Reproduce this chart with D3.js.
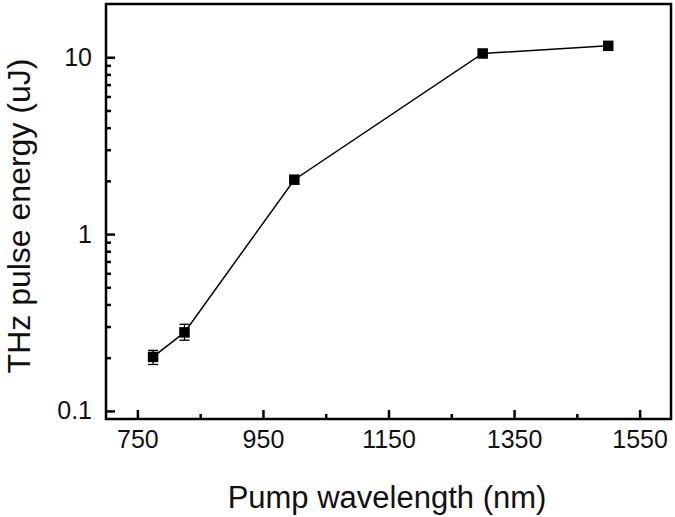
<!DOCTYPE html>
<html>
<head>
<meta charset="utf-8">
<script src="https://cdn.jsdelivr.net/npm/d3@7"></script>
<style>
  html, body { margin: 0; padding: 0; background: #fff; }
  svg { display: block; font-family: "Liberation Sans", Arial, sans-serif; }
</style>
</head>
<body>
<svg id="chart" width="675" height="517"></svg>
<script>
// Data
const wavelengths = [775, 825, 1000, 1300, 1500];
const energies = [0.202, 0.278, 2.03, 10.5, 11.6];
const errLow = [0.019, 0.027, 0, 0, 0];
const errHigh = [0.018, 0.031, 0, 0, 0];
const xTickMajor = [750, 950, 1150, 1350, 1550];
const xTickMinor = [850, 1050, 1250, 1450];
const yTickMajor = [0.1, 1, 10];
const yTickLabels = ["0.1", "1", "10"];
const yTickMinor = [0.2, 0.3, 0.4, 0.5, 0.6, 0.7, 0.8, 0.9, 2, 3, 4, 5, 6, 7, 8, 9];

const svg = d3.select("#chart");
const L = 106, R = 671, T = 4, B = 419;

const x = d3.scaleLinear().domain([700, 1600]).range([L, R]);
const y = d3.scaleLog().domain([0.09, 20]).range([B, T]);

// X axis major + minor ticks (inward)
const gx = svg.append("g").attr("transform", `translate(0,${B})`);
gx.call(d3.axisBottom(x).tickValues(xTickMajor).tickSizeInner(-9).tickSizeOuter(0).tickPadding(11).tickFormat(d3.format("d")));
gx.append("g").call(d3.axisBottom(x).tickValues(xTickMinor).tickSizeInner(-5).tickSizeOuter(0).tickFormat(""));
gx.selectAll(".domain").remove();

const gy = svg.append("g").attr("transform", `translate(${L},0)`);
gy.call(d3.axisLeft(y).tickValues(yTickMajor).tickSizeInner(-9).tickSizeOuter(0).tickPadding(14)
  .tickFormat((d, i) => yTickLabels[i]));
gy.append("g").call(d3.axisLeft(y).tickValues(yTickMinor).tickSizeInner(-5).tickSizeOuter(0).tickFormat(""));
gy.selectAll(".domain").remove();

svg.selectAll(".tick line").attr("stroke", "#000").attr("stroke-width", 2.5);
svg.selectAll(".tick text").attr("fill", "#111").style("font-size", "25px");

// Frame
svg.append("rect").attr("x", L).attr("y", T).attr("width", R - L).attr("height", B - T)
  .attr("fill", "none").attr("stroke", "#000").attr("stroke-width", 2.5);

// Line
const line = d3.line().x((d, i) => x(wavelengths[i])).y(d => y(d));
svg.append("path").datum(energies).attr("d", line)
  .attr("fill", "none").attr("stroke", "#000").attr("stroke-width", 1.5);

// Error bars
const eb = svg.append("g");
energies.forEach((v, i) => {
  if (errLow[i] === 0 && errHigh[i] === 0) return;
  const cx = x(wavelengths[i]);
  const y1 = y(v + errHigh[i]), y2 = y(v - errLow[i]);
  eb.append("line").attr("x1", cx).attr("x2", cx).attr("y1", y1).attr("y2", y2).attr("stroke", "#000").attr("stroke-width", 1.3);
  [y1, y2].forEach(yy => eb.append("line").attr("x1", cx - 5).attr("x2", cx + 5).attr("y1", yy).attr("y2", yy).attr("stroke", "#000").attr("stroke-width", 1.3));
});

// Markers
const s = 10.5;
svg.append("g").selectAll("rect").data(energies).join("rect")
  .attr("x", (d, i) => x(wavelengths[i]) - s / 2)
  .attr("y", d => y(d) - s / 2)
  .attr("width", s).attr("height", s).attr("fill", "#000");

// Titles
svg.append("text").attr("x", 387).attr("y", 508).attr("text-anchor", "middle")
  .attr("fill", "#111").style("font-size", "31px").text("Pump wavelength (nm)");
svg.append("text").attr("transform", `translate(30,216) rotate(-90)`).attr("text-anchor", "middle")
  .attr("fill", "#111").style("font-size", "32px").text("THz pulse energy (uJ)");
</script>
</body>
</html>
